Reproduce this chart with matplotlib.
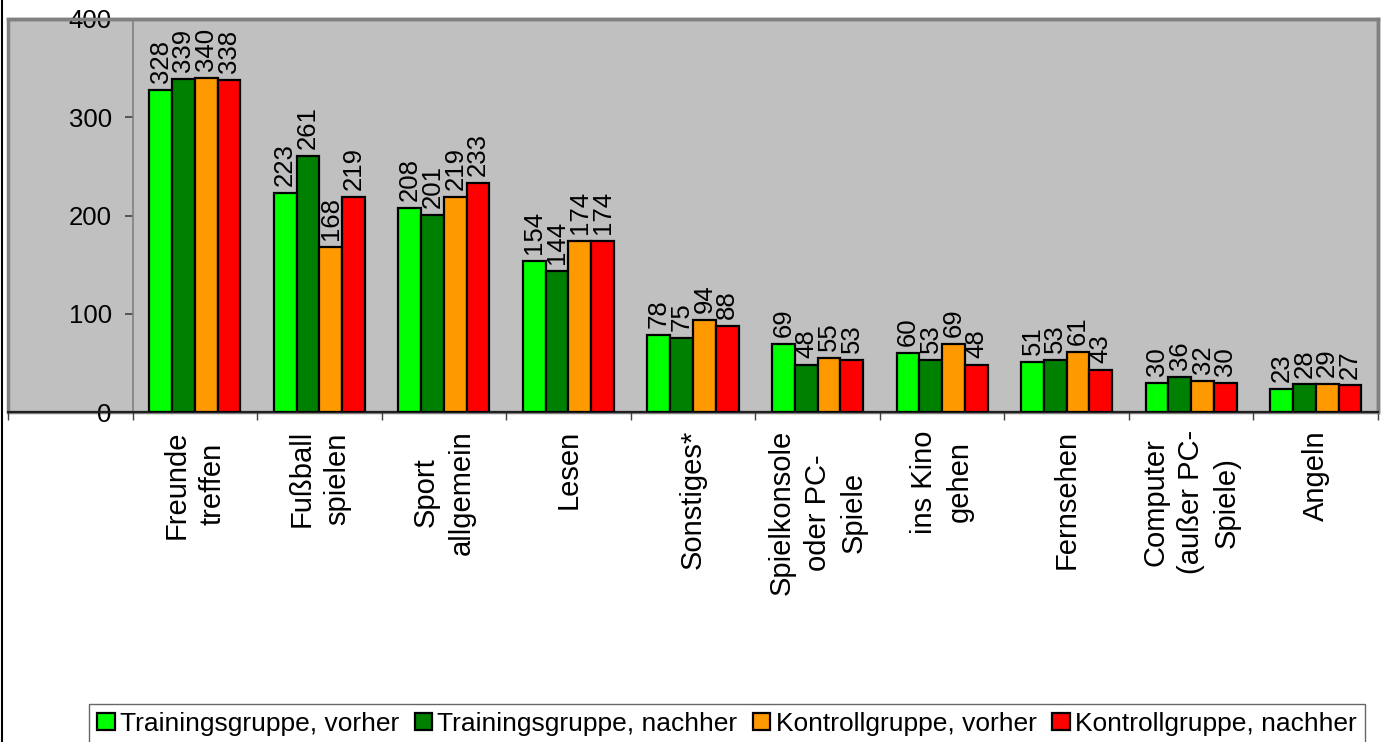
import numpy as np
import matplotlib
matplotlib.use("Agg")
import matplotlib.pyplot as plt
from matplotlib.lines import Line2D

plt.rcParams['font.family'] = ['Liberation Sans', 'DejaVu Sans']

categories = ["Freunde\ntreffen", "Fußball\nspielen", "Sport\nallgemein", "Lesen",
              "Sonstiges*", "Spielkonsole\noder PC-\nSpiele", "ins Kino\ngehen",
              "Fernsehen", "Computer\n(außer PC-\nSpiele)", "Angeln"]
series_names = ["Trainingsgruppe, vorher", "Trainingsgruppe, nachher",
                "Kontrollgruppe, vorher", "Kontrollgruppe, nachher"]
training_before = [328, 223, 208, 154, 78, 69, 60, 51, 30, 23]
training_after = [339, 261, 201, 144, 75, 48, 53, 53, 36, 28]
control_before = [340, 168, 219, 174, 94, 55, 69, 61, 32, 29]
control_after = [338, 219, 233, 174, 88, 53, 48, 43, 30, 27]
colors = ["#00FF00", "#008000", "#FF9900", "#FF0000"]

series = [training_before, training_after, control_before, control_after]

fig = plt.figure(figsize=(13.84, 7.42), dpi=100)
W, H = 1384, 742
# plot area in pixels: x 8..1378, y 19..412
ax = fig.add_axes([8 / W, 1 - 412 / H, 1370 / W, 393 / H])
ax.set_facecolor("#C0C0C0")

x = np.arange(len(categories))
bw = 0.183
for i, (vals, col) in enumerate(zip(series, colors)):
    pos = x + (i - 1.5) * bw
    bars = ax.bar(pos, vals, width=bw, color=col, edgecolor="black",
                  linewidth=1.6, label=series_names[i], zorder=3)
    for b, v in zip(bars, vals):
        ax.annotate(str(v), (b.get_x() + b.get_width() / 2, v),
                    xytext=(0, 5), textcoords="offset points",
                    rotation=90, ha="center", va="bottom", fontsize=18.5,
                    zorder=4)

ax.set_xlim(-1.5, 9.5)
ax.set_ylim(0, 400)

# axes frame
for s in ["top", "right"]:
    ax.spines[s].set_color("#808080")
    ax.spines[s].set_linewidth(2.5)
ax.patch.set_edgecolor("#808080")
ax.patch.set_linewidth(2.5)
ax.spines["left"].set_position(("data", -0.5))
ax.spines["left"].set_color("#808080")
ax.spines["left"].set_linewidth(1.2)
ax.spines["bottom"].set_color("#202020")
ax.spines["bottom"].set_linewidth(1.5)

ax.set_yticks([0, 100, 200, 300, 400])
ax.tick_params(axis="y", direction="out", length=6, width=1.2,
               color="#404040", labelsize=18.5, pad=9)

ax.set_xticks(np.arange(-1.5, 10, 1.0))
ax.set_xticklabels([])
ax.tick_params(axis="x", which="major", direction="out", length=6,
               width=1, color="#404040")
ax.set_xticks(x, minor=True)
ax.set_xticklabels(categories, minor=True, rotation=90, fontsize=21,
                   multialignment="center", va="top", ha="center",
                   linespacing=1.35)
ax.tick_params(axis="x", which="minor", length=0, pad=13)

leg = fig.legend(loc="upper center", bbox_to_anchor=(727 / W, 1 - 704 / H),
                 ncol=4, fontsize=19, frameon=True, fancybox=False,
                 edgecolor="#404040", handlelength=0.65, handleheight=0.65,
                 handletextpad=0.2, columnspacing=0.6, borderpad=0.3,
                 borderaxespad=0)
leg.get_frame().set_linewidth(1)
for h in leg.legend_handles:
    h.set_linewidth(1.6)

# left border line of the chart area
fig.add_artist(Line2D([2 / W, 2 / W], [0, 1], transform=fig.transFigure,
                      color="black", linewidth=1.5))

fig.savefig("out.png", dpi=100)
